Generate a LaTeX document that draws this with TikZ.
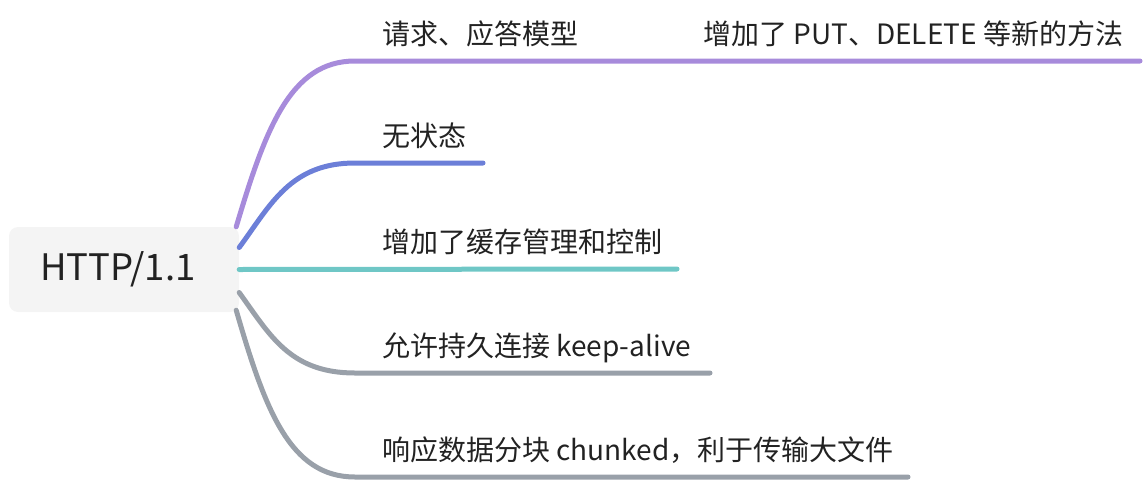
\documentclass[tikz,border=0pt]{standalone}
\usepackage{fontspec}
\setmainfont{Noto Sans CJK SC}
\usepackage{xcolor}
\usetikzlibrary{positioning,calc}
\definecolor{brpurple}{HTML}{A78BDB}
\definecolor{brblue}{HTML}{6C7FD8}
\definecolor{brteal}{HTML}{6FC7C6}
\definecolor{brgray}{HTML}{99A0A9}
\definecolor{rootfill}{HTML}{F4F4F4}
\definecolor{txt}{HTML}{222222}

\begin{document}
\begin{tikzpicture}[x=1pt,y=-1pt,
  rootbox/.style={fill=rootfill,rounded corners=9pt,minimum width=230pt,minimum height=85pt,
    text=txt,font=\fontsize{36.5}{42}\selectfont},
  label/.style={anchor=base west,inner sep=0pt,text=txt,font=\fontsize{28}{32}\selectfont},
  branch/.style={line width=5pt,line cap=round}]
\useasboundingbox (0,0) rectangle (1146,482);
\node[rootbox] (root) at (124,269.5) {\hspace*{-12pt}HTTP/1.1};
% line ends
\coordinate (k1) at (355,61);  \coordinate (e1) at (1140,61);
\coordinate (k2) at (355,163); \coordinate (e2) at (483,163);
\coordinate (e3) at (677,269);
\coordinate (k4) at (355,373); \coordinate (e4) at (710,373);
\coordinate (k5) at (355,477); \coordinate (e5) at (908,477);
% labels
\node[label] (a1) at (382,44) {请求、应答模型};
\node[label] (a1b) at (703,44) {增加了 PUT、DELETE 等新的方法};
\node[label] (a2) at (382,146) {无状态};
\node[label] (a3) at (382,252) {增加了缓存管理和控制};
\node[label] (a4) at (382,356) {允许持久连接 keep-alive};
\node[label] (a5) at (382,460) {响应数据分块 chunked，利于传输大文件};
% branches
\draw[branch,brpurple] ([xshift=-3pt]root.north east) .. controls +(29,-97) and +(-65,0) .. (k1) -- (e1);
\draw[branch,brblue] ([yshift=22pt]root.east) .. controls +(31,-42) and +(-65,0) .. (k2) -- (e2);
\draw[branch,brteal] (root.east) -- (e3);
\draw[branch,brgray] ([yshift=-23pt]root.east) .. controls +(31,43) and +(-65,0) .. (k4) -- (e4);
\draw[branch,brgray] ([xshift=-3pt,yshift=2pt]root.south east) .. controls +(29,100) and +(-65,0) .. (k5) -- (e5);
\end{tikzpicture}
\end{document}
